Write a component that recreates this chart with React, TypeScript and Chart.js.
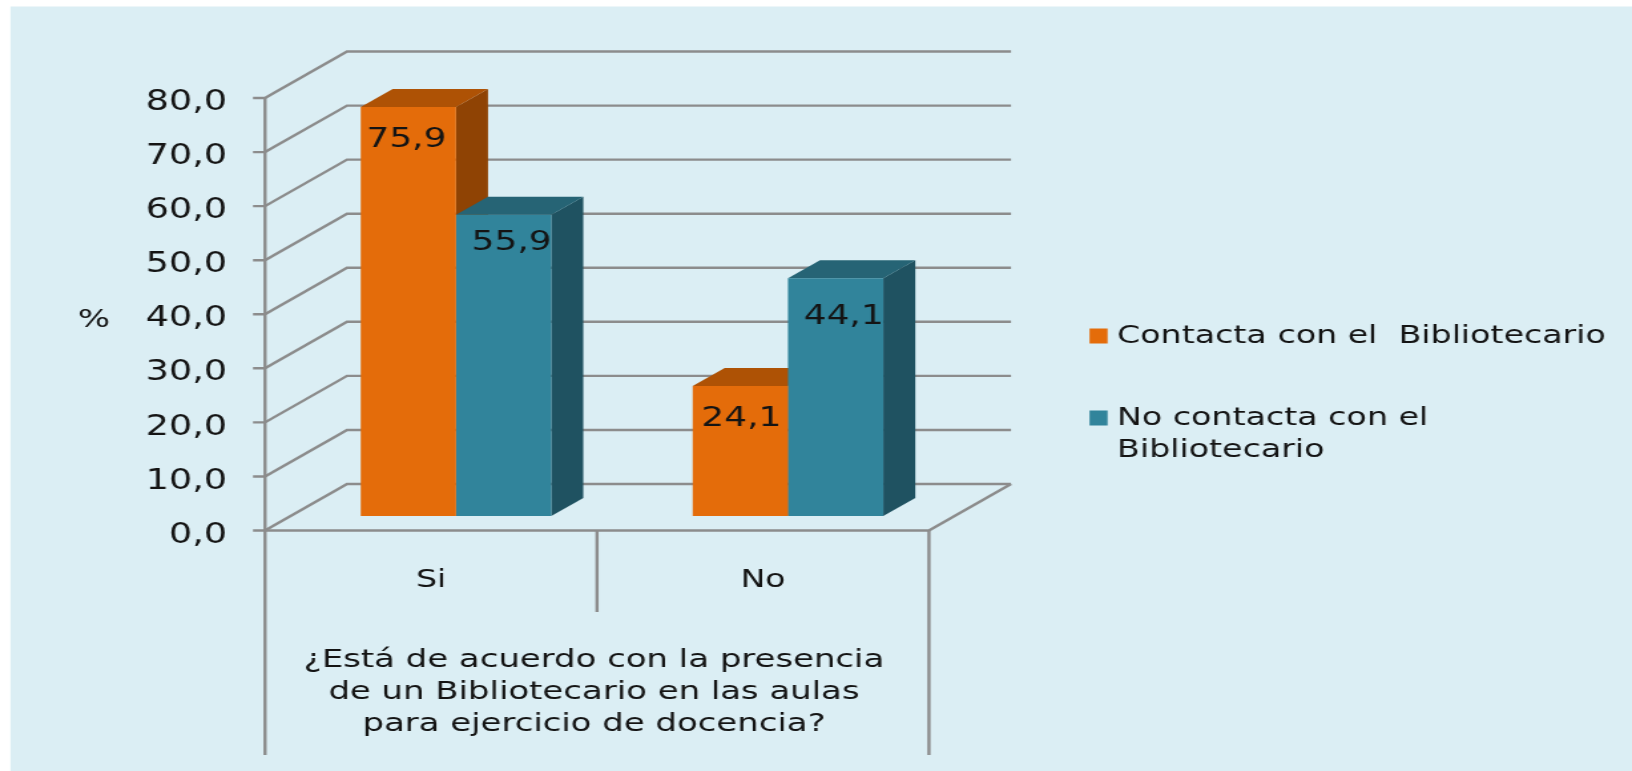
import React, { useEffect, useRef } from "react";
import { Chart, registerables } from "chart.js";

Chart.register(...registerables);

const categories = ["Si", "No"];
const contacta = [75.9, 24.1];
const noContacta = [55.9, 44.1];
const seriesLabels = ["Contacta con el  Bibliotecario", "No contacta con el Bibliotecario"];
const legendLines = [["Contacta con el  Bibliotecario"], ["No contacta con el", "Bibliotecario"]];
const axisTitleLines = [
  "¿Está de acuerdo con la presencia",
  "de un Bibliotecario en las aulas",
  "para ejercicio de docencia?",
];
const yUnit = "%";

// The reference is a horizontally stretched picture: the canvas is drawn narrower and stretched by CSS.
const SX = 1.33;
const W = 1632;
const H = 771;
const X = (px: number) => px / SX;

const FONT = '"DejaVu Sans", sans-serif';
const BG = "#DBEEF4";
const GRID = "#8C8C8C";
const TEXT = "#141414";
const ORANGE = "#E46C0A";
const ORANGE_TOP = "#AE5205";
const ORANGE_SIDE = "#8F4304";
const TEAL = "#31849B";
const TEAL_TOP = "#266475";
const TEAL_SIDE = "#1F5261";

const PX_PER_UNIT = 5.406;
const BAR_PX_PER_UNIT = 5.39;
const AREA_TOP = 46;
const AREA_BOTTOM = 530.5;
const FLOOR_LIFT = 14.5; // bars stand this far above the front edge of the floor
const PLANE_SHIFT = 25; // ...and this far right of it
const WALL_DX = 82;
const WALL_DY = 46.5;
const BAR_DX = 32;
const BAR_DY = 18;
const AREA_LEFT = 290;
const AREA_RIGHT = 954;
const labelOffsets: [number, number][][] = [
  [[-2, 33], [1, 33]],
  [[8, 28], [8, 39]],
];

const fmt = (v: number) => v.toFixed(1).replace(".", ",");

const scene3d = {
  id: "scene3d",
  beforeDraw(chart: any) {
    const { ctx, width, height } = chart;
    ctx.save();
    ctx.fillStyle = "#fff";
    ctx.fillRect(0, 0, width, height);
    ctx.fillStyle = BG;
    ctx.fillRect(X(10.5), 6.5, width - X(10.5), height - 6.5);
    ctx.restore();
  },
  beforeDatasetsDraw(chart: any) {
    const { ctx, scales, chartArea } = chart;
    const yF = scales.yFront;
    const left = chartArea.left - X(PLANE_SHIFT);
    const right = chartArea.right - X(PLANE_SHIFT);
    const mid = (left + right) / 2;
    const dx = X(WALL_DX);
    const y0 = yF.getPixelForValue(0);
    const yTop = yF.getPixelForValue(80);

    ctx.save();
    ctx.strokeStyle = GRID;
    ctx.lineWidth = 2.4;
    const line = (pts: number[][]) => {
      ctx.beginPath();
      pts.forEach(([x, y], i) => (i ? ctx.lineTo(x, y) : ctx.moveTo(x, y)));
      ctx.stroke();
    };
    yF.ticks.forEach((t: any) => {
      const y = yF.getPixelForValue(t.value);
      line([[left - X(12), y], [left, y], [left + dx, y - WALL_DY], [right + dx, y - WALL_DY]]);
    });
    line([[left, yTop], [left, 755]]);
    line([[left, y0], [right, y0], [right + dx, y0 - WALL_DY]]);
    line([[mid, y0], [mid, 612]]);
    line([[right, y0], [right, 755]]);

    // 3D faces of the bars, behind the fronts the library draws afterwards
    const faces = [
      [ORANGE_SIDE, ORANGE_TOP],
      [TEAL_SIDE, TEAL_TOP],
    ];
    const ddx = X(BAR_DX);
    faces.forEach(([side, top], di) => {
      chart.getDatasetMeta(di).data.forEach((bar: any) => {
        const p = bar.getProps(["x", "y", "base", "width"], true);
        const r = p.x + p.width / 2;
        const l = p.x - p.width / 2;
        ctx.fillStyle = side;
        ctx.beginPath();
        ctx.moveTo(r, p.y);
        ctx.lineTo(r + ddx, p.y - BAR_DY);
        ctx.lineTo(r + ddx, p.base - BAR_DY);
        ctx.lineTo(r, p.base);
        ctx.closePath();
        ctx.fill();
        ctx.fillStyle = top;
        ctx.beginPath();
        ctx.moveTo(l, p.y);
        ctx.lineTo(l + ddx, p.y - BAR_DY);
        ctx.lineTo(r + ddx, p.y - BAR_DY);
        ctx.lineTo(r, p.y);
        ctx.closePath();
        ctx.fill();
      });
    });
    ctx.restore();
  },
  afterDatasetsDraw(chart: any) {
    const { ctx, data, chartArea } = chart;
    ctx.save();
    ctx.fillStyle = TEXT;
    ctx.textBaseline = "middle";
    ctx.textAlign = "center";

    // value labels
    ctx.font = `27px ${FONT}`;
    data.datasets.forEach((ds: any, di: number) => {
      chart.getDatasetMeta(di).data.forEach((bar: any, i: number) => {
        const [ox, oy] = labelOffsets[di][i];
        ctx.fillText(fmt(ds.data[i]), bar.x + X(ox), bar.y + oy);
      });
    });

    // category axis caption, centred under the front edge of the floor
    ctx.font = `25.5px ${FONT}`;
    const cx = (chartArea.left + chartArea.right) / 2 - X(PLANE_SHIFT) - X(3);
    axisTitleLines.forEach((t, i) => ctx.fillText(t, cx, 660 + i * 32));

    // value axis unit
    ctx.fillText(yUnit, X(94), 320);

    // legend
    ctx.font = `25px ${FONT}`;
    ctx.textAlign = "left";
    const legendY = [336, 418];
    legendLines.forEach((lines, i) => {
      ctx.fillStyle = data.datasets[i].backgroundColor;
      ctx.fillRect(X(1089.5), legendY[i] - 7.5, X(18), 15);
      ctx.fillStyle = TEXT;
      lines.forEach((t, j) => ctx.fillText(t, X(1117), legendY[i] + j * 32));
    });
    ctx.restore();
  },
};

export default function App() {
  const ref = useRef<HTMLCanvasElement>(null);
  useEffect(() => {
    const chart = new Chart(ref.current!, {
      type: "bar",
      data: {
        labels: categories,
        datasets: [
          { label: seriesLabels[0], data: contacta, backgroundColor: ORANGE },
          { label: seriesLabels[1], data: noContacta, backgroundColor: TEAL },
        ],
      },
      plugins: [scene3d],
      options: {
        animation: false,
        responsive: false,
        devicePixelRatio: 1,
        layout: {
          padding: { top: AREA_TOP, right: (W - AREA_RIGHT) / SX, bottom: 0, left: 0 },
        },
        datasets: { bar: { categoryPercentage: 0.574, barPercentage: 1 } },
        plugins: { legend: { display: false }, title: { display: false }, tooltip: { enabled: false } },
        scales: {
          x: {
            type: "category",
            grid: { display: false, drawTicks: false },
            border: { display: false },
            ticks: {
              color: TEXT,
              font: { family: FONT, size: 25 },
              labelOffset: -X(PLANE_SHIFT),
              padding: 35,
              maxRotation: 0,
              autoSkip: false,
            },
            afterFit(s: any) {
              s.height = H - AREA_BOTTOM;
            },
          },
          y: {
            display: false,
            min: -FLOOR_LIFT / BAR_PX_PER_UNIT,
            max: (AREA_BOTTOM - FLOOR_LIFT - AREA_TOP) / BAR_PX_PER_UNIT,
          },
          yFront: {
            position: "left",
            bounds: "data",
            min: 0,
            max: (AREA_BOTTOM - AREA_TOP) / PX_PER_UNIT,
            grid: { display: false, drawTicks: false },
            border: { display: false },
            ticks: {
              stepSize: 10,
              includeBounds: false,
              color: TEXT,
              font: { family: FONT, size: 27.5 },
              padding: X(AREA_LEFT - 227),
              labelOffset: 5,
              callback: (v: any) => fmt(Number(v)),
            },
            afterBuildTicks(s: any) {
              s.ticks = s.ticks.filter((t: any) => t.value <= 80);
            },
            afterFit(s: any) {
              s.width = X(AREA_LEFT);
              s.paddingTop = 0;
              s.paddingBottom = 0;
            },
          },
        },
      } as any,
    });
    return () => chart.destroy();
  }, []);

  return (
    <div style={{ position: "absolute", left: 0, top: 0, width: W, height: H, overflow: "hidden" }}>
      <canvas
        ref={ref}
        width={Math.round(W / SX)}
        height={H}
        style={{ width: W, height: H, display: "block" }}
      />
    </div>
  );
}
